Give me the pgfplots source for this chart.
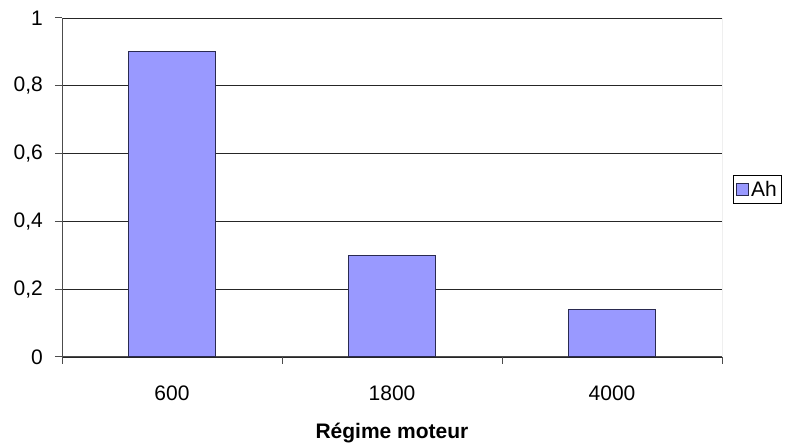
\documentclass[border=0pt]{standalone}
\usepackage{pgfplots}
\pgfplotsset{compat=1.18}
\usepackage{fontspec}
\setmainfont{Liberation Sans}
\definecolor{barfill}{HTML}{9999FF}
\definecolor{baredge}{HTML}{2A2A50}
\begin{document}
\begin{tikzpicture}[x=1bp,y=1bp]
\clip (0,0) rectangle (786,448);
\useasboundingbox (0,0) rectangle (786,448);
\begin{axis}[
  at={(62bp,91bp)}, anchor=south west,
  scale only axis, width=660bp, height=339bp,
  xmin=-0.5, xmax=2.5, ymin=0, ymax=1,
  axis x line*=bottom, axis y line*=left,
  axis line style={-, draw=black!70, line width=1pt},
  xtick={0,1,2}, xticklabels={600,1800,4000},
  major x tick style={draw=none},
  minor xtick={-0.5,0.5,1.5,2.5},
  minor x tick style={draw=black!70, line width=1pt},
  minor tick length=7bp,
  tick align=outside,
  ytick={0,0.2,0.4,0.6,0.8,1},
  major tick length=7bp,
  major y tick style={draw=black!70, line width=1pt},
  ymajorgrids, major grid style={draw=black!85, line width=0.8pt},
  /pgf/number format/use comma,
  /pgf/number format/assume math mode=true,
  ticklabel style={font=\fontsize{21bp}{25bp}\selectfont},
  yticklabel style={anchor=east, inner sep=0pt, xshift=-12bp},
  xticklabel style={anchor=north, inner sep=0pt, yshift=-21.5bp},
  xlabel={\textbf{Régime moteur}},
  xlabel style={font=\fontsize{21bp}{25bp}\selectfont, at={(rel axis cs:0.5,0)}, anchor=center, yshift=-76bp},
  legend style={at={(rel axis cs:1,0.5)}, anchor=west, xshift=11bp, yshift=-2bp,
    draw=black, line width=0.8pt, inner xsep=3bp, inner ysep=4bp, font=\fontsize{21bp}{25bp}\selectfont,
    legend cell align=left},
  legend image code/.code={\draw[fill=barfill, draw=baredge, line width=0.6pt] (0bp,-6bp) rectangle (12bp,6bp);},
]
\addplot[ybar, bar width=87bp, fill=barfill, draw=baredge, line width=1pt] coordinates {(0,0.90) (1,0.30) (2,0.14)};
\addlegendentry{Ah}
\draw[draw=black!50, line width=1pt] (rel axis cs:1,0) -- (rel axis cs:1,1);
\end{axis}
\end{tikzpicture}
\end{document}
